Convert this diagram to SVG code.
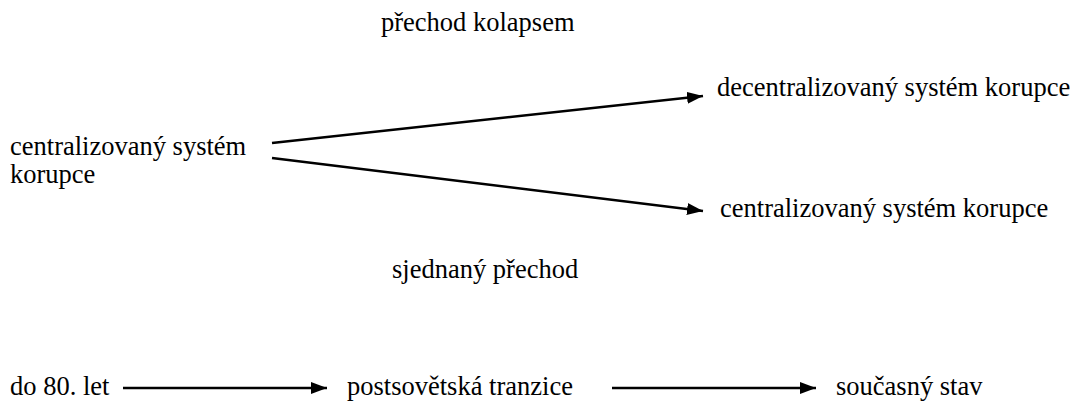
<svg xmlns="http://www.w3.org/2000/svg" width="1077" height="408" viewBox="0 0 1077 408">
<style>
text{font-family:"Liberation Serif","Times New Roman",serif;font-size:26.5px;fill:#000}
.c{stroke:#000;stroke-width:2.5;fill:none}
</style>
<defs>
<marker id="ah" markerWidth="16" markerHeight="12" refX="16" refY="6" orient="auto" markerUnits="userSpaceOnUse" viewBox="0 0 16 12"><path d="M0,0L16,6L0,12z" fill="#000"/></marker>
</defs>
<rect width="1077" height="408" fill="#fff"/>
<g id="connectors">
<line class="c" x1="272" y1="143" x2="703" y2="96" marker-end="url(#ah)"/>
<line class="c" x1="272" y1="158" x2="703" y2="211" marker-end="url(#ah)"/>
<line class="c" x1="123" y1="388" x2="327" y2="388" marker-end="url(#ah)"/>
<line class="c" x1="612" y1="388" x2="816" y2="388" marker-end="url(#ah)"/>
</g>
<g id="label-kolaps"><text x="381" y="31">přechod kolapsem</text></g>
<g id="node-central"><text x="10" y="155">centralizovaný systém</text><text x="10" y="183">korupce</text></g>
<g id="node-decentral"><text x="717" y="96">decentralizovaný systém korupce</text></g>
<g id="node-central2"><text x="720" y="217">centralizovaný systém korupce</text></g>
<g id="label-sjednany"><text x="392" y="278">sjednaný přechod</text></g>
<g id="node-80"><text x="10" y="395">do 80. let</text></g>
<g id="node-post"><text x="347" y="395">postsovětská tranzice</text></g>
<g id="node-soucasny"><text x="836" y="395">současný stav</text></g>
</svg>
